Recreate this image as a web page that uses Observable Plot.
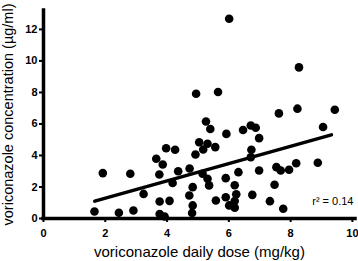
<!DOCTYPE html>
<html>
<head>
<meta charset="utf-8">
<script src="https://cdn.jsdelivr.net/npm/d3@7"></script>
<script src="https://cdn.jsdelivr.net/npm/@observablehq/plot@0.6"></script>
<style>
  html, body { margin: 0; padding: 0; background: #fff; }
</style>
</head>
<body>
<div id="chart"></div>
<script>
// Voriconazole daily dose (mg/kg)
const dose = [
  1.65, 1.92, 2.44, 2.81, 2.91, 3.24, 3.65, 3.86, 3.97, 4.26,
  3.75, 4.36, 4.18, 3.76, 4.08, 3.76, 3.92, 4.73, 4.92, 5.04,
  5.31, 5.56, 5.17, 5.40, 5.92, 6.46, 5.15, 5.31, 5.90, 6.31,
  5.36, 4.83, 6.19, 4.72, 5.58, 5.90, 6.24, 6.01, 6.19, 6.19,
  4.83, 4.81, 4.94, 5.65, 5.26, 6.01, 8.27, 7.62, 8.22, 9.43,
  6.71, 6.87, 6.98, 9.05, 6.73, 6.71, 8.18, 8.88, 7.54, 7.68,
  7.95, 6.98, 7.48, 6.76, 7.33, 7.76
];
// Voriconazole concentration (µg/ml)
const conc = [
  0.44, 2.88, 0.36, 2.84, 0.51, 1.56, 3.79, 3.43, 4.46, 4.36,
  2.79, 3.00, 2.25, 1.08, 1.12, 0.29, 0.13, 3.17, 4.06, 4.84,
  4.74, 4.53, 4.38, 5.68, 5.37, 5.62, 2.84, 2.52, 2.56, 2.94,
  2.10, 1.99, 2.11, 1.46, 1.14, 1.35, 1.54, 0.83, 0.69, 1.11,
  0.83, 0.35, 7.92, 8.03, 6.16, 12.68, 9.59, 6.67, 6.97, 6.90,
  5.90, 5.76, 5.10, 5.81, 4.36, 3.89, 3.51, 3.54, 3.26, 3.05,
  3.09, 3.05, 2.14, 1.50, 1.10, 0.62
];
// Regression line end points
const fitX = [1.66, 9.32];
const fitY = [1.10, 5.31];

const xTicks = [0, 2, 4, 6, 8, 10];
const yTicks = [0, 2, 4, 6, 8, 10, 12];
const xLabel = "voriconazole daily dose (mg/kg)";
const yLabel = "voriconazole concentration (µg/ml)";
const r2Label = "r² = 0.14";

const points = dose.map((d, i) => ({dose: d, conc: conc[i]}));
const fit = fitX.map((d, i) => ({dose: d, conc: fitY[i]}));

const chart = Plot.plot({
  width: 358,
  height: 261,
  marginLeft: 43,
  marginRight: 3,
  marginTop: 10,
  marginBottom: 43,
  style: {fontFamily: "'Liberation Sans', Arial, sans-serif", background: "#fff", color: "#000"},
  x: {domain: [0, 10.1]},
  y: {domain: [0, 13.2]},
  marks: [
    Plot.axisX(xTicks, {tickSize: 4, tickPadding: 7, strokeWidth: 2, fontSize: 11, fontWeight: "bold", label: null}),
    Plot.axisY(yTicks, {tickSize: 4, tickPadding: 2, strokeWidth: 2, fontSize: 11, fontWeight: "bold", label: null}),
    Plot.dot(points, {x: "dose", y: "conc", r: 4.3, fill: "#000", stroke: "none"}),
    Plot.line(fit, {x: "dose", y: "conc", stroke: "#000", strokeWidth: 3.5}),
    Plot.ruleY([0], {stroke: "#000", strokeWidth: 3.5, strokeLinecap: "square"}),
    Plot.ruleX([0], {stroke: "#000", strokeWidth: 3.5, strokeLinecap: "square"}),
    Plot.text([r2Label], {frameAnchor: "bottom-right", textAnchor: "end", lineAnchor: "bottom", dx: -2, dy: -14, fontSize: 11, fill: "#000"}),
    Plot.text([xLabel], {frameAnchor: "bottom", textAnchor: "middle", lineAnchor: "bottom", dy: 38, fontSize: 15, fill: "#000"}),
    Plot.text([yLabel], {frameAnchor: "left", textAnchor: "middle", lineAnchor: "bottom", rotate: -90, dx: -31, fontSize: 14.5, fill: "#000"})
  ]
});
document.getElementById("chart").appendChild(chart);
</script>
</body>
</html>
